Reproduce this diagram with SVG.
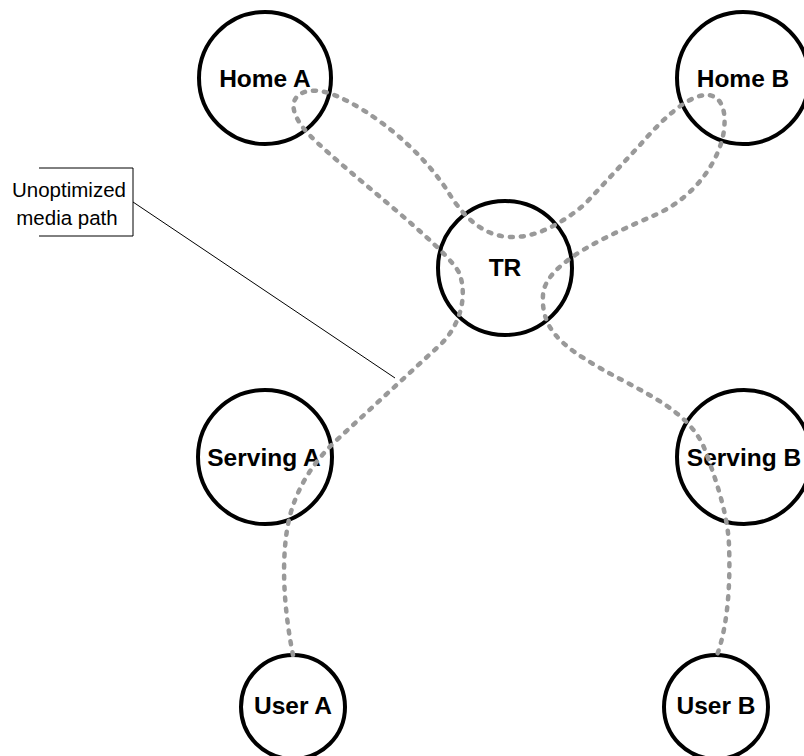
<svg xmlns="http://www.w3.org/2000/svg" width="804" height="756" viewBox="0 0 804 756">
  <style>
    .node circle { fill: #ffffff; stroke: #000000; stroke-width: 4; }
    .node text { font-family: "Liberation Sans", Arial, sans-serif; font-weight: bold; font-size: 24.5px; fill: #000000; text-anchor: middle; }
    .media { fill: none; stroke: #999999; stroke-width: 4.5; stroke-linecap: round; stroke-dasharray: 3 8; }
    .callout { fill: none; stroke: #000000; stroke-width: 1; }
    .callout-text { font-family: "Liberation Sans", Arial, sans-serif; font-size: 20.5px; fill: #000000; text-anchor: middle; }
  </style>

  <rect width="804" height="756" fill="#ffffff"/>

  <!-- nodes -->
  <g id="home-a" class="node">
    <circle cx="265" cy="78" r="66"/>
    <text x="265" y="87">Home A</text>
  </g>
  <g id="home-b" class="node">
    <circle cx="743" cy="78" r="66"/>
    <text x="743" y="87">Home B</text>
  </g>
  <g id="tr" class="node">
    <circle cx="505" cy="268" r="67"/>
    <text x="505" y="276">TR</text>
  </g>
  <g id="serving-a" class="node">
    <circle cx="265" cy="457" r="67"/>
    <text x="264" y="466">Serving A</text>
  </g>
  <g id="serving-b" class="node">
    <circle cx="744" cy="457" r="67"/>
    <text x="744" y="466">Serving B</text>
  </g>
  <g id="user-a" class="node">
    <circle cx="293" cy="707" r="52"/>
    <text x="293" y="714">User A</text>
  </g>
  <g id="user-b" class="node">
    <circle cx="716" cy="707" r="52"/>
    <text x="716" y="714">User B</text>
  </g>

  <!-- connectors: the media path and its callout -->
  <g id="connectors">
    <path class="media" d="M 293 655
      C 287 625, 280 575, 287 530
      S 320 455, 340 437
      L 440 345
      C 458 328, 468 300, 460 275
      S 330 160, 305 130
      S 300 86, 325 92
      S 410 135, 447 190
      C 460 212, 480 236, 510 237
      C 535 238, 560 225, 585 204
      L 640 145
      C 660 122, 685 97, 705 95
      C 718 94, 727 105, 724 130
      S 700 195, 655 215
      S 545 262, 543 295
      S 560 345, 600 368
      S 690 410, 705 450
      S 728 520, 729 545
      S 730 620, 717 655"/>
    <line class="callout" x1="133" y1="202" x2="395" y2="378"/>
  </g>

  <!-- callout label -->
  <g id="callout-label">
    <path class="callout" d="M 39 168 H 133 V 236 H 39"/>
    <text class="callout-text" x="69" y="197">Unoptimized</text>
    <text class="callout-text" x="67" y="225">media path</text>
  </g>
</svg>
